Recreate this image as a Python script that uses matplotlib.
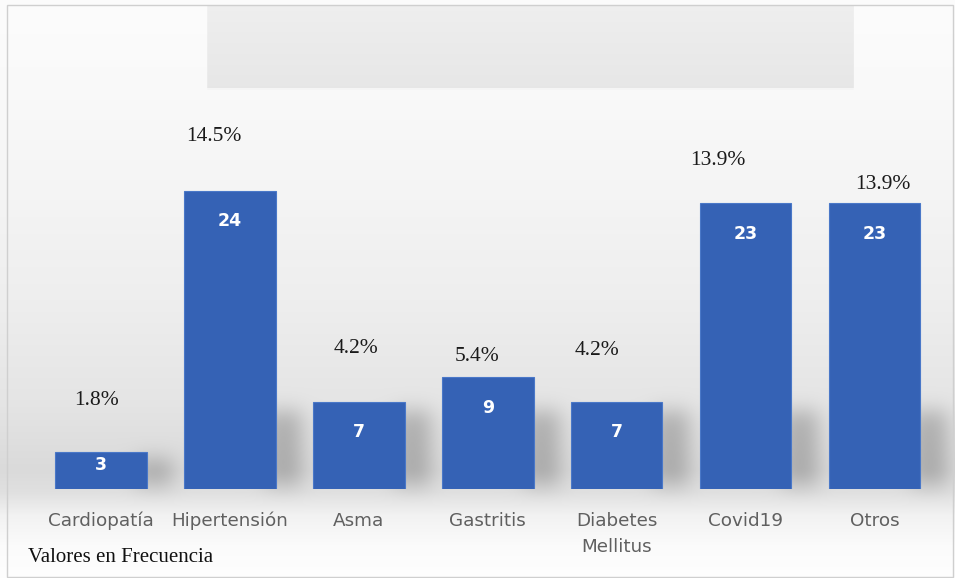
import numpy as np
import matplotlib
matplotlib.use("Agg")
import matplotlib.pyplot as plt
from matplotlib.patches import Rectangle

# frequencies per condition
categorias = ["Cardiopatía", "Hipertensión", "Asma", "Gastritis",
              "Diabetes\nMellitus", "Covid19", "Otros"]
frecuencias = [3, 24, 7, 9, 7, 23, 23]
porcentajes = [1.8, 14.5, 4.2, 5.4, 4.2, 13.9, 13.9]

# where each percentage label sits relative to the top of its bar (pixels)
pct_offsets = [(-4, 51), (-16, 54), (-3, 54), (-11, 21), (-20, 52), (-28, 43), (8, 19)]

W, H = 955, 578
fig = plt.figure(figsize=(W / 100, H / 100), dpi=100)

bg = fig.add_axes([0, 0, 1, 1], zorder=-5)
bg.axis("off")

ax = fig.add_axes([36.5 / W, 89 / H, (939 - 36.5) / W, 372.6 / H])
ax.set_xlim(-0.5, 6.5)
ax.set_ylim(0, 30)
ax.patch.set_alpha(0)
for s in ax.spines.values():
    s.set_visible(False)
ax.set_yticks([])

x = np.arange(len(categorias))
bars = ax.bar(x, frecuencias, width=0.71, color="#3562b5", edgecolor="#4a78c8",
              linewidth=0.8, zorder=3)

ax.set_xticks(x, labels=categorias)
ax.tick_params(axis="x", length=0, pad=16.5)
for lbl in ax.get_xticklabels():
    lbl.set_fontfamily("DejaVu Sans")
    lbl.set_fontsize(13.2)
    lbl.set_color("#606060")
    lbl.set_linespacing(1.6)

# value inside each bar
for xi, v in zip(x, frecuencias):
    yc = max(v - 2.45, v * 0.65)
    ax.text(xi, yc, str(v), ha="center", va="center", color="white",
            fontsize=12.5, fontweight="bold", zorder=4)

# percentage above each bar
for xi, v, p, (dx, dy) in zip(x, frecuencias, porcentajes, pct_offsets):
    ax.annotate(f"{p}%", (xi, v), xytext=(dx, dy), textcoords="offset pixels",
                ha="center", va="center", fontsize=15.5,
                family="Liberation Serif", color="#1a1a1a")

fig.text(28 / W, 1 - 557 / H, "Valores en Frecuencia", ha="left", va="center",
         fontsize=15, family="Liberation Serif", color="#111111")

# background: vertical grey gradient, title placeholder box, soft bar shadows
rows = np.arange(H)
stops_y = [0, 100, 200, 300, 400, 470, 492, 515, 545, 578]
stops_v = [252, 249, 244, 238, 229, 218, 224, 242, 251, 254]
col = np.interp(rows, stops_y, stops_v) / 255.0
img = np.repeat(col[:, None], W, axis=1)

box = np.interp(np.arange(6, 88), [6, 88], [0.935, 0.905])
img[6:88, 207:853] = box[:, None]
img[88:90, 207:853] *= 0.985

shadow = np.zeros((H, W))
for b in bars:
    (x0, y0), (x1, y1) = ax.transData.transform(
        [(b.get_x(), 0), (b.get_x() + b.get_width(), b.get_height())])
    r_base = int(H - y0)
    r_top = int(H - y1)
    c1 = int(x1)
    top = max(r_top + 8, r_base - 78)
    shadow[top:r_base - 4, c1 - 10:c1 + 26] = 1.0


def blur(a, sigma):
    k = np.arange(-3 * sigma, 3 * sigma + 1)
    g = np.exp(-k ** 2 / (2 * sigma ** 2))
    g /= g.sum()
    a = np.apply_along_axis(lambda r: np.convolve(r, g, mode="same"), 1, a)
    a = np.apply_along_axis(lambda c: np.convolve(c, g, mode="same"), 0, a)
    return a


shadow = blur(shadow, 10)
img = img * (1 - 0.22 * shadow)
rgb = np.dstack([img, img, img])
bg.imshow(rgb, extent=(0, W, 0, H), aspect="auto", interpolation="bilinear")
bg.set_xlim(0, W)
bg.set_ylim(0, H)

fig.add_artist(Rectangle((7 / W, 1 / H), 946 / W, 572 / H, transform=fig.transFigure,
                         fill=False, edgecolor="#cfcfcf", linewidth=1))

fig.savefig("out.png", dpi=100)
